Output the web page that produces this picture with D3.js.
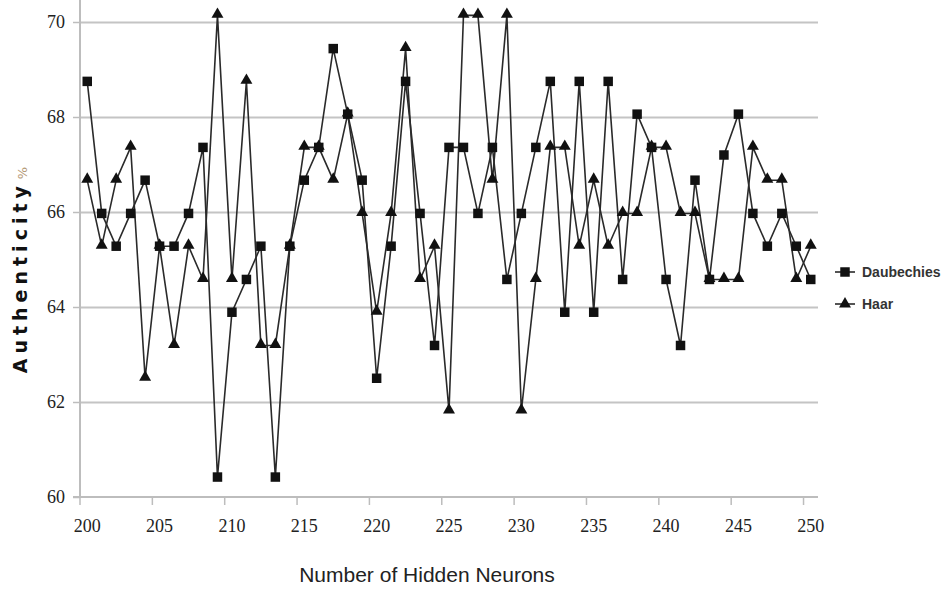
<!DOCTYPE html>
<html>
<head>
<meta charset="utf-8">
<script src="https://cdn.jsdelivr.net/npm/d3@7"></script>
<style>
  body { margin: 0; background: #fff; }
  svg { display: block; }
  .grid line { stroke: #c4c4c4; stroke-width: 2; }
  .grid .domain { display: none; }
  .axis .domain { stroke: #bdbdbd; stroke-width: 2; }
  .axis line { stroke: #bdbdbd; stroke-width: 1.5; }
  .axis text { font-family: "Liberation Serif", "Times New Roman", serif; font-size: 18px; fill: #222; }
  .series { fill: none; stroke: #2a2a2a; stroke-width: 1.6; }
  .legend text { font-family: "Liberation Sans", Arial, sans-serif; font-size: 14px; font-weight: bold; fill: #333; }
</style>
</head>
<body>
<svg width="943" height="590"></svg>
<script>
const width = 943
const height = 590
const margin = { top: 22, bottom: 93, left: 80, right: 125 }

// hidden neurons 200..250
const neurons = d3.range(200, 251)
const xTicks = [200, 205, 210, 215, 220, 225, 230, 235, 240, 245, 250]
const yTicks = [60, 62, 64, 66, 68, 70]

const daubechies = [
  68.75, 65.97, 65.28, 65.97, 66.67, 65.28, 65.28, 65.97, 67.36, 60.42,
  63.89, 64.58, 65.28, 60.42, 65.28, 66.67, 67.36, 69.44, 68.06, 66.67,
  62.5, 65.28, 68.75, 65.97, 63.19, 67.36, 67.36, 65.97, 67.36, 64.58,
  65.97, 67.36, 68.75, 63.89, 68.75, 63.89, 68.75, 64.58, 68.06, 67.36,
  64.58, 63.19, 66.67, 64.58, 67.2, 68.06, 65.97, 65.28, 65.97, 65.28,
  64.58
]
const haar = [
  66.67, 65.28, 66.67, 67.36, 62.5, 65.28, 63.19, 65.28, 64.58, 70.14,
  64.58, 68.75, 63.19, 63.19, 65.28, 67.36, 67.36, 66.67, 68.06, 65.97,
  63.89, 65.97, 69.44, 64.58, 65.28, 61.81, 70.14, 70.14, 66.67, 70.14,
  61.81, 64.58, 67.36, 67.36, 65.28, 66.67, 65.28, 65.97, 65.97, 67.36,
  67.36, 65.97, 65.97, 64.58, 64.58, 64.58, 67.36, 66.67, 66.67, 64.58,
  65.28
]
const seriesNames = ["Daubechies", "Haar"]

const x = d3.scaleBand().domain(neurons).range([margin.left, 818])
const y = d3.scaleLinear().domain([60, 70]).range([height - margin.bottom, margin.top])
const bw = x.bandwidth()
const cx = function (d) { return x(d) + bw / 2 }

const svg = d3.select("svg")

// horizontal gridlines
svg.append("g")
  .attr("class", "grid")
  .attr("transform", "translate(" + margin.left + ",0)")
  .call(d3.axisLeft(y).tickValues(yTicks.slice(1)).tickSize(-(818 - margin.left)).tickFormat(""))

// y axis
const yAxis = d3.axisLeft(y).tickValues(yTicks).tickSize(7).tickPadding(8).tickFormat(d3.format("d"))
const gy = svg.append("g")
  .attr("class", "axis y")
  .attr("transform", "translate(" + margin.left + ",0)")
  .call(yAxis)
gy.select(".domain").attr("d", "M0," + (height - margin.bottom) + "V0")

// x axis: ticks between categories, labels at category centres
const xAxis = d3.axisBottom(x).tickValues(xTicks).tickSize(8).tickPadding(14)
const gx = svg.append("g")
  .attr("class", "axis x")
  .attr("transform", "translate(0," + (height - margin.bottom) + ")")
  .call(xAxis)
gx.select(".domain").attr("d", "M" + (margin.left - 7) + ",0H818")
gx.selectAll(".tick line").attr("x1", -bw / 2).attr("x2", -bw / 2)

// axis titles
svg.append("text")
  .attr("x", 427)
  .attr("y", 582)
  .attr("text-anchor", "middle")
  .style("font-family", "'Liberation Sans', Arial, sans-serif")
  .style("font-size", "21px")
  .style("fill", "#222")
  .text("Number of Hidden Neurons")

const ylab = svg.append("text")
  .attr("transform", "translate(27,270) rotate(-90)")
  .attr("text-anchor", "middle")
  .style("font-family", "'DejaVu Sans', sans-serif")
ylab.append("tspan")
  .style("font-size", "19px")
  .style("font-weight", "bold")
  .style("letter-spacing", "5px")
  .style("fill", "#111")
  .text("Authenticity")
ylab.append("tspan")
  .attr("dx", 2)
  .style("font-size", "13px")
  .style("fill", "#b59a78")
  .text("%")

// lines
const line = d3.line()
  .x(function (d, i) { return cx(neurons[i]) })
  .y(function (d) { return y(d) })

const square = d3.symbol().type(d3.symbolSquare).size(90)
const triangle = d3.symbol().type(d3.symbolTriangle).size(62)

svg.append("path").datum(daubechies).attr("class", "series").attr("d", line)
svg.append("path").datum(haar).attr("class", "series").attr("d", line)

svg.append("g").selectAll("path")
  .data(daubechies)
  .enter().append("path")
  .attr("d", square)
  .attr("fill", "#111")
  .attr("transform", function (d, i) { return "translate(" + cx(neurons[i]) + "," + y(d) + ")" })

svg.append("g").selectAll("path")
  .data(haar)
  .enter().append("path")
  .attr("d", triangle)
  .attr("fill", "#111")
  .attr("transform", function (d, i) { return "translate(" + cx(neurons[i]) + "," + (y(d) - 1) + ")" })

// legend
const legend = svg.append("g").attr("class", "legend")
  .selectAll("g")
  .data(seriesNames)
  .enter().append("g")
  .attr("transform", function (d, i) { return "translate(835," + (272 + i * 32) + ")" })
legend.append("line")
  .attr("x1", 0).attr("x2", 20)
  .attr("stroke", "#2a2a2a").attr("stroke-width", 1.6)
legend.append("path")
  .attr("d", function (d, i) { return i === 0 ? square() : triangle() })
  .attr("fill", "#111")
  .attr("transform", "translate(10,0)")
legend.append("text")
  .attr("x", 27)
  .attr("dy", "0.35em")
  .text(function (d) { return d })
</script>
</body>
</html>
